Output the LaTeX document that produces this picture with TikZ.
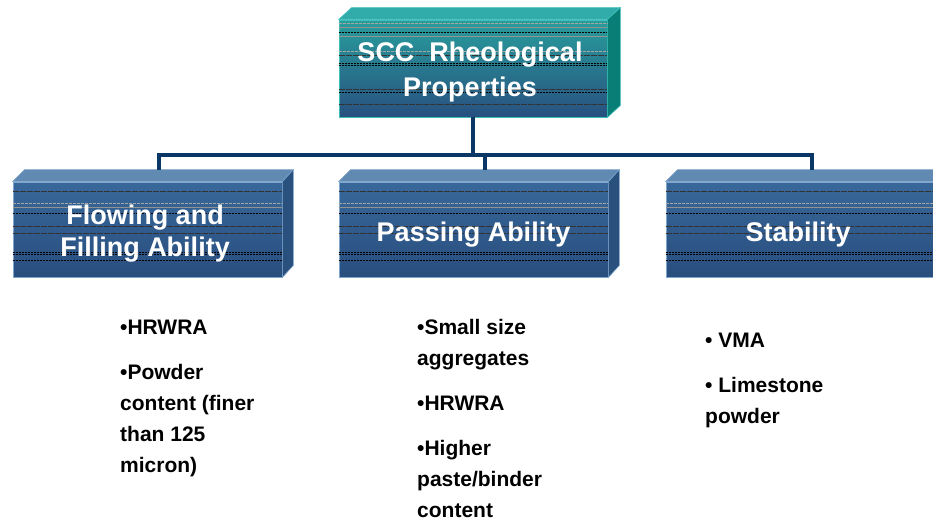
\documentclass[tikz,border=0pt]{standalone}
\usepackage{fontspec}
\setmainfont{Liberation Sans}
\definecolor{navy}{RGB}{10,55,102}
\definecolor{bfronta}{RGB}{56,104,154}
\definecolor{bfrontb}{RGB}{40,78,126}
\definecolor{btop}{RGB}{96,138,178}
\definecolor{bside}{RGB}{42,80,126}
\definecolor{bedge}{RGB}{125,165,205}
\definecolor{tfronta}{RGB}{40,158,156}
\definecolor{tfrontb}{RGB}{40,80,128}
\definecolor{ttop}{RGB}{50,172,170}
\definecolor{tside}{RGB}{8,126,118}
\definecolor{tedge}{RGB}{60,190,185}
\newcommand{\mystripes}[2]{\foreach \o/\s in {#2}{\draw[\s] ([yshift=-\o pt]#1.north west) -- ([yshift=-\o pt]#1.north east);}}
\begin{document}
\begin{tikzpicture}[x=1pt,y=-1pt,
  front/.style={rectangle, inner sep=0pt, draw=bedge, line width=0.8pt,
    top color=bfronta, bottom color=bfrontb, text=white,
    font=\fontsize{27}{32}\selectfont\bfseries, align=center,
    minimum width=269pt, minimum height=95pt},
  tfront/.style={front, draw=tedge, top color=tfronta, bottom color=tfrontb, minimum width=268pt, minimum height=97pt},
  topface/.style={fill=btop, draw=bedge, line width=0.6pt},
  sideface/.style={fill=bside, draw=bedge, line width=0.6pt},
  ttopface/.style={fill=ttop, draw=tedge, line width=0.6pt},
  tsideface/.style={fill=tside, draw=tedge, line width=0.6pt},
  gs/.style={draw=gray!85, line width=0.7pt},
  gd/.style={draw=gray!70, line width=0.7pt, dash pattern=on 3pt off 1pt},
  ks/.style={draw=black!80, line width=0.7pt, dash pattern=on 6pt off 1pt},
  kd/.style={draw=black, line width=0.7pt, dash pattern=on 2pt off 1pt},
  conn/.style={draw=navy, line width=4pt},
  boxtext/.style={text=white, font=\fontsize{27}{32}\selectfont\bfseries, align=center},
  bul/.style={inner sep=0pt, align=left, font=\fontsize{21}{31}\selectfont\bfseries, text=black}
]
\useasboundingbox (0,0) rectangle (933,520);

% top box
\node[tfront] (top) at (473,68.5) {};
\fill[ttopface] (top.north west) -- ++(13,-12) -- ([shift={(13,-12)}]top.north east) -- (top.north east) -- cycle;
\fill[tsideface] (top.north east) -- ++(13,-12) -- ([shift={(13,-12)}]top.south east) -- (top.south east) -- cycle;
\mystripes{top}{4/gd,8/gs,13/kd,17/gs,32/gd,36/ks,44/kd,45.5/kd,70/ks,73/kd,85/ks}
\node[boxtext, font=\fontsize{27}{35}\selectfont\bfseries] (toptext) at (470,72.5) {SCC\ \ Rheological\\Properties};

% bottom boxes
\foreach \n/\cx in {L/147.5, M/473.5, R/800.5}{
  \node[front] (\n) at (\cx,229.5) {};
  \fill[topface] (\n.north west) -- ++(12,-12) -- ([shift={(11,-12)}]\n.north east) -- (\n.north east) -- cycle;
  \fill[sideface] (\n.north east) -- ++(11,-12) -- ([shift={(11,-12)}]\n.south east) -- (\n.south east) -- cycle;
  \mystripes{\n}{10/ks,22/gd,26/gs,32/kd,45/ks,52/ks,71/kd,73/kd,79/kd}
}
\node[boxtext] (Ltext) at (145,234) {Flowing and\\Filling Ability};
\node[boxtext] (Mtext) at (473.5,234.5) {Passing Ability};
\node[boxtext] (Rtext) at (798,234.5) {Stability};

% connectors
\coordinate (j) at (473,155);
\coordinate (Lt) at ([shift={(11,-12)}]L.north);
\coordinate (Mt) at ([shift={(11,-12)}]M.north);
\coordinate (Rt) at ([shift={(11,-12)}]R.north);
\draw[conn] (top.south) -- (j);
\draw[conn] (Lt) |- (j) -| (Rt);
\draw[conn] (Mt) -- (Mt |- j);

% bullet lists
\node[bul, anchor=north west] (t1) at (120,320) {•HRWRA\\[14pt]•Powder\\content (finer\\than 125\\micron)};
\node[bul, anchor=north west] (t2) at (417,319) {•Small size\\aggregates\\[14pt]•HRWRA\\[14pt]•Higher\\paste/binder\\content};
\node[bul, anchor=north west] (t3) at (705,333) {• VMA\\[14pt]• Limestone\\powder};
\end{tikzpicture}
\end{document}
